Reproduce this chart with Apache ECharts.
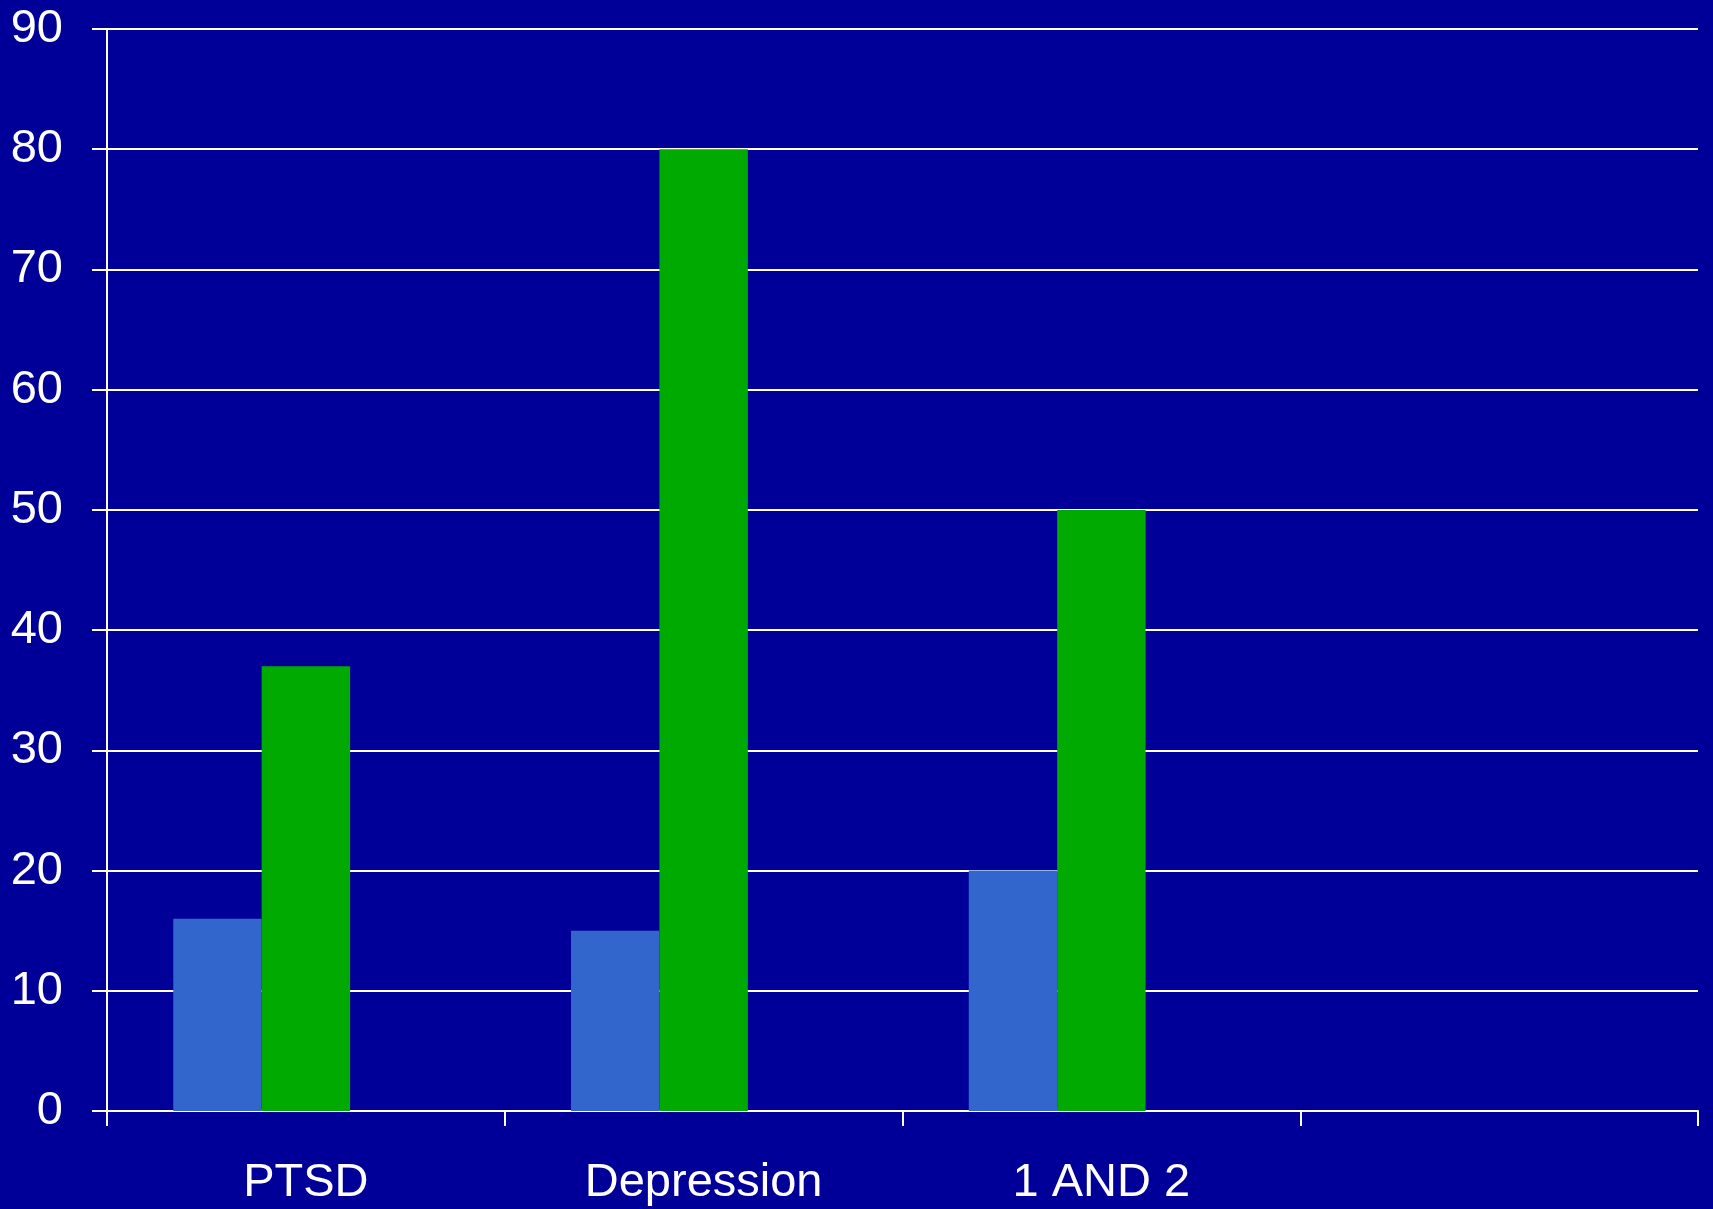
<!DOCTYPE html>
<html>
<head>
<meta charset="utf-8">
<script src="https://cdn.jsdelivr.net/npm/echarts@6/dist/echarts.min.js"></script>
<style>
  html, body { margin: 0; padding: 0; background: #000099; }
  #main { width: 1713px; height: 1209px; }
</style>
</head>
<body>
<div id="main"></div>
<script>
// categories (4th slot is empty in the original)
var categories = ['PTSD', 'Depression', '1 AND 2', ''];
// two visible series, plus an empty third one that keeps the slot
var seriesBlue = [16, 15, 20, null];
var seriesGreen = [37, 80, 50, null];
var seriesEmpty = [null, null, null, null];
var yTicks = [0, 10, 20, 30, 40, 50, 60, 70, 80, 90];

var chartDom = document.getElementById('main');
var myChart = echarts.init(chartDom);

var white = '#ffffff';
var font = 'Liberation Sans, Arial, sans-serif';

var option = {
    backgroundColor: '#000099',
    animation: false,
    grid: {
        left: 107,
        right: 15,
        top: 29,
        bottom: 98
    },
    xAxis: {
        type: 'category',
        data: categories,
        axisLine: { show: true, lineStyle: { color: white, width: 2 } },
        axisTick: {
            show: true,
            length: 15,
            lineStyle: { color: white, width: 2 }
        },
        axisLabel: {
            color: white,
            fontSize: 47,
            fontFamily: font,
            margin: 49
        },
        splitLine: { show: false }
    },
    yAxis: {
        type: 'value',
        min: yTicks[0],
        max: yTicks[yTicks.length - 1],
        interval: 10,
        axisLine: { show: true, lineStyle: { color: white, width: 2 } },
        axisTick: {
            show: true,
            length: 15,
            lineStyle: { color: white, width: 2 }
        },
        axisLabel: {
            color: white,
            fontSize: 47,
            fontFamily: font,
            margin: 44
        },
        splitLine: { show: true, lineStyle: { color: white, width: 2 } }
    },
    series: [
        {
            name: 'A',
            type: 'bar',
            data: seriesBlue,
            barWidth: 88.4,
            barGap: '0%',
            itemStyle: { color: '#3366CC' }
        },
        {
            name: 'B',
            type: 'bar',
            data: seriesGreen,
            barWidth: 88.4,
            barGap: '0%',
            itemStyle: { color: '#00AA00' }
        },
        {
            name: 'C',
            type: 'bar',
            data: seriesEmpty,
            barWidth: 88.4,
            barGap: '0%',
            itemStyle: { color: '#000099' }
        }
    ]
};

option && myChart.setOption(option);
</script>
</body>
</html>
